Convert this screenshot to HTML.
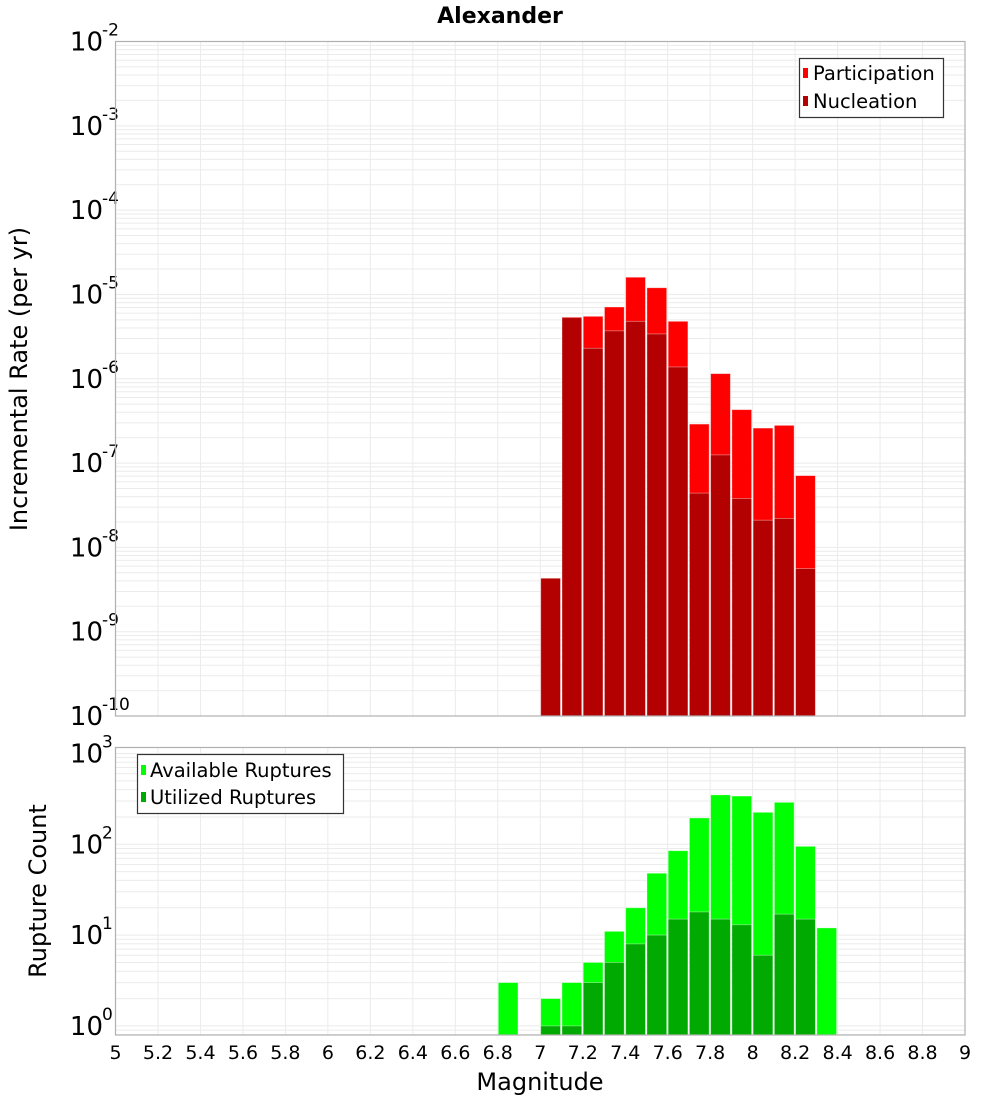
<!DOCTYPE html>
<html><head><meta charset="utf-8">
<style>
html,body{margin:0;padding:0;background:#fff;}
svg{display:block;font-family:"DejaVu Sans","Liberation Sans",sans-serif;}
</style></head>
<body>
<svg id="chart" width="1000" height="1100" viewBox="0 0 1000 1100">
<text x="500" y="23" text-anchor="middle" font-size="22" font-weight="bold">Alexander</text>
<g id="top"></g>
<g id="bot"></g>
<text transform="translate(27,379) rotate(-90)" text-anchor="middle" font-size="24">Incremental Rate (per yr)</text>
<text transform="translate(46,891) rotate(-90)" text-anchor="middle" font-size="24">Rupture Count</text>
<text x="540" y="1090" text-anchor="middle" font-size="24">Magnitude</text>
<g>
<rect x="799.5" y="58.5" width="144" height="59" fill="#fff" stroke="#333" stroke-width="1.2"/>
<rect x="803" y="68" width="5" height="10" fill="#ff0000"/>
<text x="813" y="80" font-size="19.5">Participation</text>
<rect x="803" y="96" width="5" height="10" fill="#b30000"/>
<text x="813" y="108" font-size="19.5">Nucleation</text>
</g>
<g>
<rect x="137.5" y="754.5" width="206" height="59" fill="#fff" stroke="#333" stroke-width="1.2"/>
<rect x="141" y="765" width="5" height="10" fill="#00ff00"/>
<text x="150" y="777" font-size="19.5">Available Ruptures</text>
<rect x="141" y="792" width="5" height="10" fill="#00aa00"/>
<text x="150" y="804" font-size="19.5">Utilized Ruptures</text>
</g>
</svg>
<script>
var topMags = [7.0,7.1,7.2,7.3,7.4,7.5,7.6,7.7,7.8,7.9,8.0,8.1,8.2];
var participation = [4.3e-9,5.4e-6,5.5e-6,7.1e-6,1.6e-5,1.2e-5,4.8e-6,2.9e-7,1.15e-6,4.3e-7,2.6e-7,2.8e-7,7.1e-8];
var nucleation = [4.3e-9,5.3e-6,2.3e-6,3.7e-6,4.8e-6,3.4e-6,1.38e-6,4.4e-8,1.25e-7,3.8e-8,2.1e-8,2.2e-8,5.6e-9];
var botMags = [6.8,7.0,7.1,7.2,7.3,7.4,7.5,7.6,7.7,7.8,7.9,8.0,8.1,8.2,8.3];
var available = [3,2,3,5,11,20,48,85,195,350,340,225,290,95,12];
var utilized = [0,1,1,3,5,8,10,15,18,15,13,6,17,15,0];
var xTicks = ["5","5.2","5.4","5.6","5.8","6","6.2","6.4","6.6","6.8","7","7.2","7.4","7.6","7.8","8","8.2","8.4","8.6","8.8","9"];

var NS="http://www.w3.org/2000/svg";
var X0=115.5,X1=965,M0=5,M1=9;
function xs(m){return X0+(m-M0)/(M1-M0)*(X1-X0);}
var T={top:41.5,bot:716,lmin:-10,lmax:-2};
var B={top:747.5,bot:1035,lmin:-0.1,lmax:3+6/91};
function ys(P,v){var l=Math.log10(v);return P.bot-(l-P.lmin)/(P.lmax-P.lmin)*(P.bot-P.top);}
function mk(g,tag,at){var e=document.createElementNS(NS,tag);for(var k in at)e.setAttribute(k,at[k]);g.appendChild(e);return e;}

function frame(g,P,exps){
  for(var d=Math.floor(P.lmin);d<=Math.ceil(P.lmax);d++){
    for(var k=1;k<10;k++){var v=k*Math.pow(10,d);var y=ys(P,v);
      if(y<P.top-0.1||y>P.bot+0.1)continue;
      var ln=mk(g,'line',{x1:X0,x2:X1,y1:y,y2:y,stroke:'#ebebeb','stroke-width':1});
      
      }
  }
  for(var i=0;i<xTicks.length;i++){var x=xs(parseFloat(xTicks[i]));
    var vl=mk(g,'line',{x1:x,x2:x,y1:P.top,y2:P.bot,stroke:'#ebebeb','stroke-width':1});
    
    }
  for(var j=0;j<exps.length;j++){var e=exps[j];var y=ys(P,Math.pow(10,e));
    var t=mk(g,'text',{x:103,y:y+9,'text-anchor':'end','font-size':26});
    t.textContent='10';
    
    
    var s=mk(g,'text',{x:102,y:y-6,'font-size':17});
    s.textContent=String(e);
    
    }
}
function bars(g,P,mags,vals,col,name){
  for(var i=0;i<mags.length;i++){if(!(vals[i]>0))continue;
    var x=xs(mags[i])+0.5,w=xs(mags[i]+0.1)-xs(mags[i])-1.5,y=ys(P,vals[i]);
    var r=mk(g,'rect',{x:x,y:y,width:w,height:P.bot-y,fill:col,stroke:'rgba(255,255,255,0.45)','stroke-width':0.8});
    
    }
}
function border(g,P){var r=mk(g,'rect',{x:X0,y:P.top,width:X1-X0,height:P.bot-P.top,fill:'none',stroke:'#b0b0b0','stroke-width':1.2});
  
  }

var gt=document.getElementById('top'),gb=document.getElementById('bot');
frame(gt,T,[-2,-3,-4,-5,-6,-7,-8,-9,-10]);
bars(gt,T,topMags,participation,'#ff0000','participation');
bars(gt,T,topMags,nucleation,'#b30000','nucleation');
border(gt,T);
frame(gb,B,[3,2,1,0]);
bars(gb,B,botMags,available,'#00ff00','available');
bars(gb,B,botMags,utilized,'#00aa00','utilized');
border(gb,B);
for(var i=0;i<xTicks.length;i++){
  var t=mk(gb,'text',{x:xs(parseFloat(xTicks[i])),y:1059,'text-anchor':'middle','font-size':19});
  t.textContent=xTicks[i];
  
  
}
</script>
</body></html>
